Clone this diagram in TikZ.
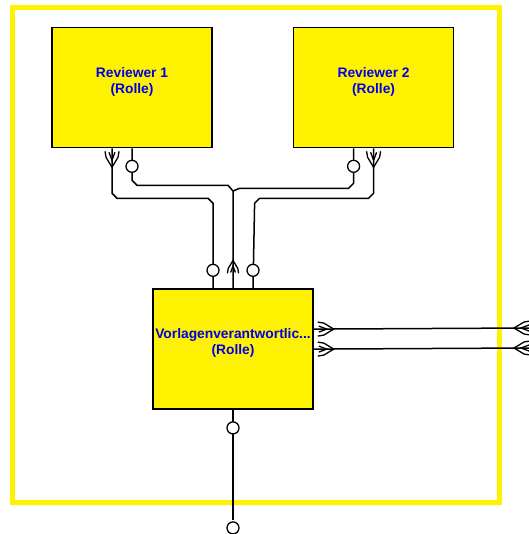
\documentclass[tikz,border=0pt]{standalone}
\usepackage{fontspec}
\setsansfont{Liberation Sans}
\usetikzlibrary{positioning}

\begin{document}
\begin{tikzpicture}[x=1pt,y=-1pt, node distance=80pt,
  box/.style={draw,fill=yellow,line width=1.6pt,minimum width=160pt,minimum height=120pt,inner sep=0pt},
  lbl/.style={font=\fontsize{13.8}{16}\selectfont\sffamily\bfseries,text=blue!90!black,align=center,inner sep=0pt},
  rel/.style={line width=1.5pt},
  port/.style={circle,draw,fill=white,line width=1.3pt,minimum size=12pt,inner sep=0pt},
  fork/.pic={\draw[line width=1.3pt] (0,-7) -- (6,-6) -- (16,0) -- (6,6) -- (0,7) (1,-3) -- (9,0) -- (1,3);}]
\useasboundingbox (0,0) rectangle (528,534);
\draw[yellow,line width=5pt] (12,7.5) rectangle (499.5,502);
\node[box] (r1) at (132,87.5) {};
\node[box,right=of r1] (r2) {};
\node[box,below=140pt of r1,xshift=101pt] (vl) {};
\node[lbl] (r1t) at ([yshift=6pt]r1.center) {Reviewer 1\\(Rolle)};
\node[lbl] (r2t) at ([yshift=6pt]r2.center) {Reviewer 2\\(Rolle)};
\node[lbl] (vlt) at ([yshift=6pt]vl.center) {Vorlagenverantwortlic...\\(Rolle)};
\coordinate (j) at (233,191);
\coordinate (o1) at (530,328);
\coordinate (o2) at (530,348);
\coordinate (o3) at (233,520);
% reviewer links
\draw[rel] ([xshift=-20pt]r1.south) -- ++(0,45) -- ++(5,5) -- ++(91,0) -- ++(5,5) -- ([xshift=-20pt]vl.north);
\draw[rel] (r1.south) -- ++(0,32) -- ++(5,5) -- ++(91,0) -- (j) -- (vl.north);
\draw[rel] ([xshift=-20pt]r2.south) -- ++(0,35) -- ++(-5,5) -- ++(-109,0) -- (j);
\draw[rel] (r2.south) -- ++(0,45) -- ++(-5,5) -- ++(-109,0) -- ++(-5,5) -- ([xshift=20pt]vl.north);
% outgoing
\draw[rel] ([yshift=20pt]vl.east) -- (o1);
\draw[rel] (vl.east) -- (o2);
\draw[rel] (vl.south) -- (o3);
\node[port] (p1) at ([yshift=-18pt]r1.south) {};
\node[port] (p2) at ([xshift=-20pt,yshift=-18pt]r2.south) {};
\node[port] (p3) at ([xshift=-20pt,yshift=18pt]vl.north) {};
\node[port] (p4) at ([xshift=20pt,yshift=18pt]vl.north) {};
\node[port] (p5) at ([yshift=-18pt]vl.south) {};
\node[port] (p6) at ([yshift=-118pt]vl.south) {};
\pic[rotate=-90] at ([xshift=-20pt,yshift=-3pt]r1.south) {fork};
\pic[rotate=-90] at ([yshift=-3pt]r2.south) {fork};
\pic[rotate=90,scale=0.8] at ([yshift=15pt]vl.north) {fork};
\pic at ([xshift=4pt,yshift=20pt]vl.east) {fork};
\pic at ([xshift=4pt]vl.east) {fork};
\pic[rotate=180] at (o1) {fork};
\pic[rotate=180] at (o2) {fork};
\end{tikzpicture}
\end{document}
